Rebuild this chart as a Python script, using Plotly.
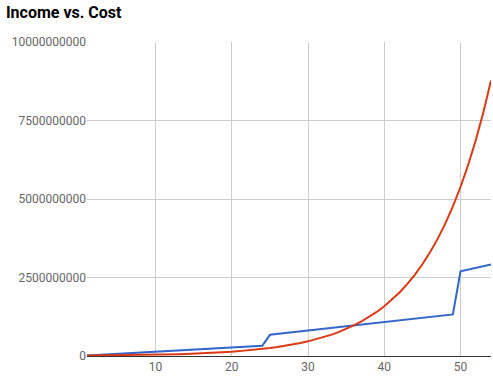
import plotly.graph_objects as go

# x values (periods)
periods = list(range(1, 55))

# Income series (blue)
income = [
    13.5e6, 27e6, 40.5e6, 54e6, 67.5e6, 81e6, 94.5e6, 108e6, 121.5e6, 135e6,
    148.5e6, 162e6, 175.5e6, 189e6, 202.5e6, 216e6, 229.5e6, 243e6, 256.5e6, 270e6,
    283.5e6, 297e6, 310.5e6, 324e6,
    675e6, 702e6, 729e6, 756e6, 783e6, 810e6, 837e6, 864e6, 891e6, 918e6,
    945e6, 972e6, 999e6, 1026e6, 1053e6, 1080e6, 1107e6, 1134e6, 1161e6, 1188e6,
    1215e6, 1242e6, 1269e6, 1296e6, 1323e6,
    2700e6, 2754e6, 2808e6, 2862e6, 2916e6,
]

# Cost series (red)
cost = [
    13.5e6, 15.3e6, 17.2e6, 19.5e6, 22.0e6, 24.9e6, 28.1e6, 31.7e6, 35.9e6, 40.5e6,
    45.8e6, 51.8e6, 58.5e6, 66.1e6, 74.7e6, 84.4e6, 95.4e6, 107.8e6, 121.8e6, 137.6e6,
    155.5e6, 175.7e6, 198.5e6, 224.3e6, 253.5e6, 286.5e6, 323.7e6, 365.8e6, 413.3e6, 467.0e6,
    527.8e6, 596.4e6, 673.9e6, 761.5e6, 860.5e6, 972.4e6, 1098.8e6, 1241.6e6, 1403.0e6, 1585.4e6,
    1791.5e6, 2024.4e6, 2287.6e6, 2585.0e6, 2921.0e6, 3300.8e6, 3729.9e6, 4214.6e6, 4762.6e6, 5381.8e6,
    6081.4e6, 6872.0e6, 7765.4e6, 8774.9e6,
]

y_ticks = [0, 2500000000, 5000000000, 7500000000, 10000000000]
x_ticks = [10, 20, 30, 40, 50]

fig = go.Figure()
fig.add_trace(go.Scatter(x=periods, y=income, mode="lines", name="Income",
                         line=dict(color="#3366cc", width=2)))
fig.add_trace(go.Scatter(x=periods, y=cost, mode="lines", name="Cost",
                         line=dict(color="#dc3912", width=2)))

fig.update_layout(
    width=493, height=380,
    margin=dict(l=87, r=2, t=42, b=24),
    paper_bgcolor="white", plot_bgcolor="white",
    showlegend=False,
    font=dict(family="Roboto, Arial, sans-serif", size=12, color="#666666"),
    title=dict(text="<b>Income vs. Cost</b>", x=0.012, xanchor="left", xref="container",
               y=0.968, yanchor="middle", yref="container",
               font=dict(family="Roboto, Arial, sans-serif", size=16, color="#000000")),
)
fig.update_xaxes(range=[1, 54], tickvals=x_ticks, showgrid=True, gridcolor="#cccccc",
                 gridwidth=1, zeroline=False, showline=True, linecolor="#333333", linewidth=1,
                 ticks="", tickfont=dict(size=12, color="#666666"))
fig.update_yaxes(range=[0, 10000000000], tickvals=y_ticks, tickformat="d",
                 showgrid=True, gridcolor="#cccccc", gridwidth=1, zeroline=False,
                 showline=False, ticks="", ticklen=0,
                 tickfont=dict(size=12, color="#666666"))

fig.write_html("out.html", config={"displayModeBar": False},
               post_script="document.body.style.margin='0';document.body.style.overflow='hidden';")
